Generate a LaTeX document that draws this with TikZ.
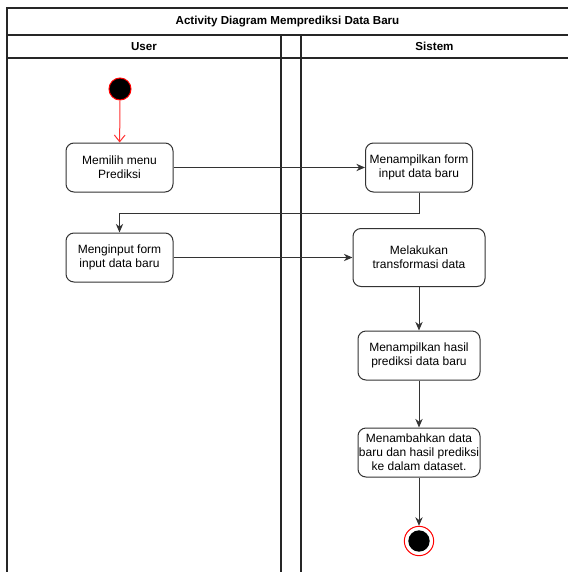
\documentclass[tikz,border=0pt]{standalone}
\usepackage{fontspec}
\setmainfont{Liberation Sans}
\usetikzlibrary{arrows.meta, positioning}

\begin{document}
\begin{tikzpicture}[x=0.75pt, y=-0.75pt,
        accion/.style={rectangle, draw=black!80, line width=0.75pt, rounded corners=6pt, fill=white, align=center, font=\fontsize{9}{10.6}\selectfont, inner sep=0pt, minimum width=80.25pt, minimum height=36.75pt},
        carril/.style={draw=black!85, line width=0.9pt},
        titulo/.style={font=\fontsize{8.7}{10}\selectfont\bfseries},
        flujo/.style={draw=black!80, line width=0.75pt, -{Stealth[length=6.5pt, width=5.5pt]}}]
        \useasboundingbox (0,0) rectangle (568,572);
        % marco y carriles
        \draw[carril] (7,572) -- (7,8) -- (568,8);
        \draw[carril] (7,35) -- (568,35);
        \draw[carril] (7,58) -- (568,58);
        \draw[carril] (281,35) -- (281,572);
        \draw[carril] (301,35) -- (301,572);
        \node[titulo] (T) at (287.5,21.5) {Activity Diagram Memprediksi Data Baru};
        \node[titulo] (U) at (144,46.5) {User};
        \node[titulo] (S) at (434.5,46.5) {Sistem};
        % nodos
        \node[circle, draw=red, fill=black, line width=0.75pt, minimum size=16.5pt, inner sep=0pt] (inicio) at (120,89) {};
        \node[accion] (A1) at (119.5,167.5) {Memilih menu\\Prediksi};
        \node[accion] (A2) at (419,167.5) {Menampilkan form\\input data baru};
        \node[accion] (A3) at (119.5,257.5) {Menginput form\\input data baru};
        \node[accion, minimum width=99pt, minimum height=43.5pt] (A4) at (419,257.5) {Melakukan\\transformasi data};
        \node[accion, minimum width=91.5pt] (A5) at (419,355.5) {Menampilkan hasil\\prediksi data baru};
        \node[accion, minimum width=91.5pt] (A6) at (419,452.5) {Menambahkan data\\baru dan hasil prediksi\\ke dalam dataset.};
        \node[circle, draw=red, fill=white, line width=0.75pt, minimum size=22pt, inner sep=0pt] (fin) at (419,541) {};
        \node[circle, fill=black, minimum size=16pt, inner sep=0pt] (finB) at (fin) {};
        % flujos
        \draw[draw=red!80, line width=0.75pt, -{Straight Barb[length=5pt, width=8pt]}] (inicio) -- (A1);
        \draw[flujo] (A1) -- (A2);
        \draw[flujo] (A2.south) -- ++(0,21) -| (A3.north);
        \draw[flujo] (A3) -- (A4);
        \draw[flujo] (A4) -- (A5);
        \draw[flujo] (A5) -- (A6);
        \draw[flujo] (A6) -- (fin);
    \end{tikzpicture}
\end{document}
